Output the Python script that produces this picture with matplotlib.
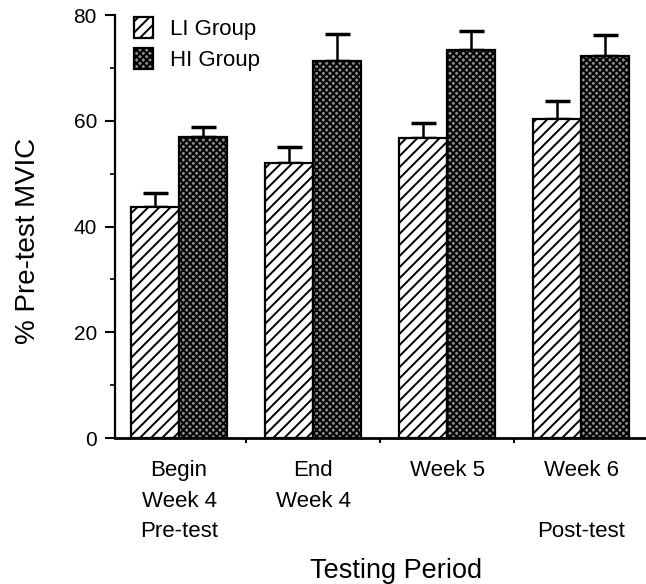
import numpy as np
import matplotlib
matplotlib.use('Agg')
import matplotlib.pyplot as plt
from matplotlib.ticker import MultipleLocator, FixedLocator

plt.rcParams['font.family'] = ['Liberation Sans', 'DejaVu Sans']
plt.rcParams['hatch.linewidth'] = 1.4

periods = ['Begin\nWeek 4\nPre-test', 'End\nWeek 4', 'Week 5', 'Week 6\n\nPost-test']
li_mean = [43.7, 52.1, 56.8, 60.3]
li_err = [2.6, 2.9, 2.7, 3.5]
hi_mean = [57.0, 71.3, 73.3, 72.3]
hi_err = [1.9, 5.1, 3.7, 3.9]

fig = plt.figure(figsize=(6.46, 5.84), dpi=100)
ax = fig.add_axes([0.178, 0.25, 0.822, 0.7243])

index = np.arange(len(periods))
bar_width = 0.358

ax.bar(index - bar_width/2, li_mean, bar_width, color='white', edgecolor='black',
       hatch='///', linewidth=1.6, zorder=3, label='LI Group')
ax.bar(index + bar_width/2, hi_mean, bar_width, color='0.55', edgecolor='black',
       hatch='xxxxx', linewidth=1.6, zorder=3, label='HI Group')

# upper error bars only
ax.errorbar(index - bar_width/2, li_mean, yerr=[np.zeros(4), li_err], fmt='none',
            ecolor='black', elinewidth=1.8, capsize=9, capthick=2.5, zorder=2)
ax.errorbar(index + bar_width/2, hi_mean, yerr=[np.zeros(4), hi_err], fmt='none',
            ecolor='black', elinewidth=1.8, capsize=9, capthick=2.5, zorder=2)

ax.set_xlim(-0.478, 3.485)
ax.set_ylim(0, 80)

ax.spines['top'].set_visible(False)
ax.spines['right'].set_visible(False)
ax.spines['left'].set_linewidth(1.6)
ax.spines['bottom'].set_linewidth(2.0)

ax.yaxis.set_major_locator(MultipleLocator(20))
ax.yaxis.set_minor_locator(MultipleLocator(10))
ax.tick_params(axis='y', which='major', direction='out', length=7, width=1.5,
               labelsize=15, pad=6)
ax.tick_params(axis='y', which='minor', direction='out', length=3.5, width=1.2)

ax.set_xticks(index)
ax.set_xticklabels(periods, fontsize=16, linespacing=1.6)
ax.xaxis.set_minor_locator(FixedLocator([0.5, 1.5, 2.5]))
ax.tick_params(axis='x', which='major', length=0, pad=16)
ax.tick_params(axis='x', which='minor', direction='out', length=3.5, width=1.5)

ax.set_xlabel('Testing Period', fontsize=19.5)
ax.xaxis.set_label_coords(0.529, -0.284)
ax.set_ylabel('% Pre-test MVIC', fontsize=20)
ax.yaxis.set_label_coords(-0.139, 0.466)

ax.legend(loc='upper left', bbox_to_anchor=(0.036, 0.995), frameon=False,
          fontsize=16, handlelength=0.86, handleheight=1.05, handletextpad=0.77,
          labelspacing=0.36, borderpad=0, borderaxespad=0)

fig.savefig('out.png', dpi=100)
